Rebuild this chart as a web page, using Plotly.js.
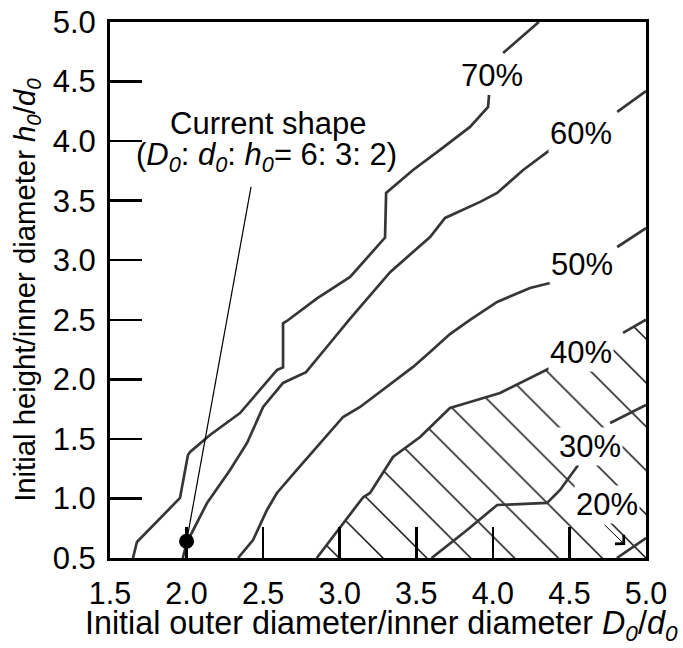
<!DOCTYPE html>
<html><head><meta charset="utf-8">
<script src="https://cdn.plot.ly/plotly-3.0.1.min.js"></script>
<style>html,body{margin:0;padding:0;background:#fff}#chart{width:683px;height:648px}</style>
</head><body><div id="chart"></div>
<script>
// axis ranges and ticks
const xRange = [1.5, 5.0];
const yRange = [0.5, 5.0];
const xTicks = [1.5, 2.0, 2.5, 3.0, 3.5, 4.0, 4.5, 5.0];
const yTicks = [0.5, 1.0, 1.5, 2.0, 2.5, 3.0, 3.5, 4.0, 4.5, 5.0];

// contour lines (null = gap for label)
const c70x = [1.650, 1.676, 1.957, 2.009, 2.023, 2.153, 2.349, 2.591, 2.63, 2.63, 2.655, 2.852, 3.068, 3.296, 3.303, 3.479, 3.655, 3.851, 3.969, 3.975, null, 4.067, 4.30];
const c70y = [0.5, 0.634, 1.004, 1.365, 1.39, 1.533, 1.717, 2.079, 2.10, 2.47, 2.49, 2.68, 2.86, 3.19, 3.565, 3.758, 3.926, 4.119, 4.287, 4.388, null, 4.740, 5.0];

const c60x = [1.975, 2.003, 2.134, 2.284, 2.395, 2.50, 2.63, 2.78, 2.937, 3.068, 3.329, 3.59, 3.688, 3.917, 4.028, 4.198, 4.374, null, 4.812, 5.0];
const c60y = [0.5, 0.634, 0.962, 1.239, 1.466, 1.768, 1.97, 2.06, 2.305, 2.51, 2.90, 3.195, 3.355, 3.49, 3.565, 3.758, 3.926, null, 4.245, 4.42];

const c50x = [2.336, 2.434, 2.525, 2.59, 2.72, 2.852, 3.022, 3.133, 3.394, 3.479, 3.59, 3.72, 3.851, 4.028, 4.243, 4.374, null, 4.812, 5.0];
const c50y = [0.5, 0.651, 0.903, 1.046, 1.239, 1.432, 1.684, 1.768, 2.02, 2.104, 2.23, 2.38, 2.50, 2.65, 2.767, 2.809, null, 3.111, 3.27];

const c40x = [2.85, 3.002, 3.153, 3.198, 3.348, 3.525, 3.655, 3.72, 3.851, 4.047, 4.374, null, 4.85, 5.0];
const c40y = [0.5, 0.76, 1.01, 1.046, 1.348, 1.516, 1.675, 1.76, 1.81, 1.885, 2.095, null, 2.39, 2.5];

const c30x = [3.60, 3.832, 4.028, 4.354, 4.439, 4.557, null, 4.766, 5.0];
const c30y = [0.5, 0.735, 0.945, 0.962, 1.071, 1.281, null, 1.634, 1.785];

const c20x = [4.81, 5.0];
const c20y = [0.5, 0.668];

// contour labels
const labelText = ['70%', '60%', '50%', '40%', '30%', '20%'];
const labelX = [3.993, 4.574, 4.58, 4.578, 4.635, 4.744];
const labelY = [4.555, 4.06, 2.96, 2.227, 1.438, 0.953];

// current shape point and its callout
const currentX = [2.0];
const currentY = [0.64];
const calloutX = 2.421, calloutY = 3.615;
const arrow20From = [4.72, 0.79];
const arrow20To = [4.864, 0.609];

const FONT = 'Liberation Sans, Arial, sans-serif';
const lineStyle = {color: '#363636', width: 2.7};

const contours = [[c70x, c70y], [c60x, c60y], [c50x, c50y], [c40x, c40y], [c30x, c30y], [c20x, c20y]];

// hatched region: below 40% line
const hx = c40x.filter(v => v !== null).concat([xRange[1]]);
const hy = c40y.filter(v => v !== null).concat([yRange[0]]);

const traces = [{
  x: hx, y: hy, mode: 'lines', fill: 'toself', line: {width: 0},
  fillcolor: 'rgba(0,0,0,0)',
  fillpattern: {shape: '\\', size: 31, solidity: 0.045, fgcolor: '#000', bgcolor: 'rgba(0,0,0,0)'},
  hoverinfo: 'skip', showlegend: false
}];
contours.forEach(c => traces.push({
  x: c[0], y: c[1], mode: 'lines', line: lineStyle, connectgaps: false, showlegend: false, hoverinfo: 'skip'
}));
traces.push({x: currentX, y: currentY, mode: 'markers', marker: {color: '#000', size: 15}, showlegend: false, cliponaxis: false});

const annotations = labelText.map((t, i) => ({
  x: labelX[i], y: labelY[i], xref: 'x', yref: 'y', text: t, showarrow: false,
  font: {family: FONT, size: 31, color: '#000'}, bgcolor: '#fff', borderpad: 1
}));
annotations.push({x: 2.532, y: 4.152, xref: 'x', yref: 'y', text: 'Current shape', showarrow: false,
  font: {family: FONT, size: 31, color: '#000'}});
annotations.push({x: 2.519, y: 3.867, xref: 'x', yref: 'y',
  text: '(<i>D<sub>0</sub></i>: <i>d<sub>0</sub></i>: <i>h<sub>0</sub></i>= 6: 3: 2)', showarrow: false,
  font: {family: FONT, size: 31, color: '#000'}});
annotations.push({x: arrow20To[0], y: arrow20To[1], ax: arrow20From[0], ay: arrow20From[1], xref: 'x', yref: 'y', axref: 'x', ayref: 'y',
  text: '', showarrow: true, arrowhead: 4, arrowsize: 2.4, arrowwidth: 1, arrowcolor: '#000', standoff: 0});
// axis titles
annotations.push({xref: 'paper', yref: 'paper', x: 0.507, y: -0.126, xanchor: 'center', yanchor: 'middle',
  text: 'Initial outer diameter/inner diameter <i>D<sub>0</sub></i>/<i>d<sub>0</sub></i>', showarrow: false,
  font: {family: FONT, size: 32.3, color: '#000'}});
annotations.push({xref: 'paper', yref: 'paper', x: -0.157, y: 0.50, xanchor: 'center', yanchor: 'middle', textangle: -90,
  text: 'Initial height/inner diameter <i>h<sub>0</sub></i>/<i>d<sub>0</sub></i>', showarrow: false,
  font: {family: FONT, size: 29.3, color: '#000'}});

const axisCommon = {
  showgrid: false, zeroline: false, showline: true, linewidth: 3, linecolor: '#000', mirror: true,
  ticks: 'inside', tickwidth: 2.5, tickcolor: '#000'
};

const layout = {
  width: 683, height: 648,
  margin: {l: 110, r: 37, t: 22, b: 90},
  paper_bgcolor: '#fff', plot_bgcolor: '#fff',
  font: {family: FONT, color: '#000'},
  xaxis: Object.assign({}, axisCommon, {range: xRange, tickvals: xTicks, ticktext: xTicks.map(v => v.toFixed(1)), ticklen: 31, ticklabelstandoff: 6,
    tickfont: {family: FONT, size: 30.5, color: '#000'}}),
  yaxis: Object.assign({}, axisCommon, {range: yRange, tickvals: yTicks, ticktext: yTicks.map(v => v.toFixed(1)), ticklen: 32, ticklabelstandoff: 5,
    tickfont: {family: FONT, size: 31, color: '#000'}}),
  annotations: annotations,
  shapes: [{type: 'line', xref: 'x', yref: 'y', x0: currentX[0], y0: currentY[0], x1: calloutX, y1: calloutY, line: {color: '#000', width: 1.2}}],
  showlegend: false
};

Plotly.newPlot('chart', traces, layout, {staticPlot: true, displayModeBar: false});
</script>
</body></html>
